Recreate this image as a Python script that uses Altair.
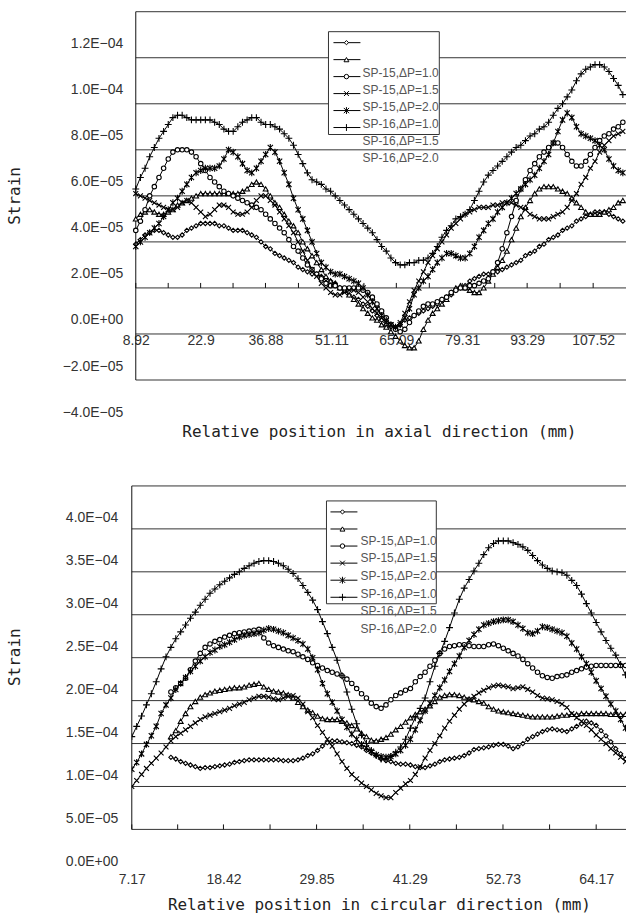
import json
import altair as alt
import pandas as pd

SERIES = ["SP-15,ΔP=1.0", "SP-15,ΔP=1.5", "SP-15,ΔP=2.0",
          "SP-16,ΔP=1.0", "SP-16,ΔP=1.5", "SP-16,ΔP=2.0"]
# open Excel-style markers: diamond, triangle, circle, x, star, plus
MARKERS = ["diamond", "triangle-up", "circle",
           "M-1,-1L1,1M-1,1L1,-1",
           "M-1,-1L1,1M-1,1L1,-1M0,-1.3L0,1.3",
           "M-1.3,0L1.3,0M0,-1.3L0,1.3"]
MARKER_SIZES = [18, 24, 20, 24, 28, 28]

# ---------------- axial direction (microstrain, every 1 mm from 8.92 mm) ----------------
AXIAL_START, AXIAL_STEP = 8.92, 1.0
axial_sp15_dp10 = [39, 41, 43, 44, 45, 45, 44, 43, 42, 42,
                   43, 45, 46, 47, 48, 48, 48, 48, 47, 47,
                   46, 45, 45, 45, 44, 43, 42, 40, 38, 37,
                   35, 34, 33, 32, 31, 29, 28, 27, 26, 26,
                   25, 24, 23, 22, 20, 19, 17, 16, 15, 13,
                   12, 10, 8, 6, 4, 3, 3, 4, 6, 7,
                   8, 9, 10, 11, 12, 13, 15, 16, 17, 19,
                   20, 21, 23, 24, 25, 26, 26, 27, 27, 28,
                   29, 30, 31, 32, 34, 35, 36, 38, 39, 41,
                   42, 43, 45, 46, 47, 49, 50, 51, 52, 53,
                   53, 53, 52, 51, 50, 49]
axial_sp15_dp15 = [50, 52, 53, 54, 53, 52, 52, 53, 54, 56,
                   57, 58, 59, 60, 61, 61, 61, 61, 61, 61,
                   61, 61, 61, 62, 63, 65, 66, 65, 63, 60,
                   57, 55, 52, 49, 47, 44, 40, 37, 34, 31,
                   28, 25, 23, 22, 20, 19, 17, 15, 13, 11,
                   9, 7, 6, 4, 3, 1, -1, -3, -5, -6,
                   -6, -3, 2, 6, 9, 11, 13, 15, 18, 20,
                   21, 20, 19, 18, 18, 20, 23, 26, 29, 32,
                   36, 41, 46, 51, 55, 58, 61, 63, 64, 64,
                   64, 63, 62, 61, 59, 57, 55, 53, 52, 52,
                   52, 53, 54, 55, 57, 58]
axial_sp15_dp20 = [45, 49, 54, 60, 64, 68, 72, 76, 79, 80,
                   80, 80, 79, 77, 74, 71, 68, 66, 64, 62,
                   61, 60, 59, 58, 57, 56, 55, 54, 52, 50,
                   48, 46, 44, 41, 38, 36, 33, 30, 28, 26,
                   24, 22, 21, 21, 20, 20, 20, 20, 20, 19,
                   18, 16, 13, 10, 7, 4, 2, 1, 2, 5,
                   8, 10, 12, 13, 13, 14, 15, 16, 18, 19,
                   20, 20, 21, 21, 22, 23, 24, 27, 31, 37,
                   44, 51, 58, 63, 67, 71, 74, 77, 79, 81,
                   83, 83, 81, 78, 75, 73, 73, 75, 78, 81,
                   84, 86, 87, 89, 90, 92]
axial_sp16_dp10 = [61, 60, 59, 58, 57, 56, 55, 54, 54, 55,
                   57, 58, 57, 55, 53, 51, 52, 54, 56, 56,
                   55, 53, 52, 52, 53, 55, 58, 60, 60, 58,
                   56, 53, 50, 47, 44, 40, 36, 32, 28, 25,
                   22, 20, 18, 17, 17, 18, 19, 19, 18, 16,
                   14, 11, 9, 7, 5, 4, 3, 5, 9, 14,
                   19, 23, 27, 31, 34, 37, 40, 43, 46, 48,
                   50, 52, 53, 54, 55, 55, 55, 56, 56, 57,
                   57, 57, 56, 55, 54, 52, 51, 50, 50, 50,
                   51, 52, 53, 55, 58, 61, 65, 68, 72, 75,
                   79, 82, 84, 86, 87, 88]
axial_sp16_dp15 = [38, 40, 42, 44, 46, 48, 51, 54, 57, 59,
                   62, 65, 68, 70, 71, 72, 72, 72, 73, 76,
                   80, 79, 77, 74, 71, 70, 72, 75, 78, 81,
                   79, 75, 70, 65, 59, 54, 50, 45, 40, 35,
                   31, 29, 27, 26, 26, 25, 24, 23, 22, 20,
                   17, 14, 11, 8, 6, 4, 3, 4, 7, 11,
                   17, 20, 23, 25, 28, 31, 33, 35, 35, 34,
                   33, 33, 35, 38, 42, 45, 48, 50, 53, 55,
                   57, 59, 61, 63, 65, 67, 69, 72, 75, 78,
                   83, 88, 93, 96, 94, 90, 87, 86, 85, 84,
                   82, 80, 76, 73, 71, 70]
axial_sp16_dp20 = [63, 68, 72, 77, 81, 85, 88, 91, 94, 95,
                   95, 94, 93, 93, 93, 93, 93, 92, 91, 89,
                   88, 88, 90, 92, 93, 94, 94, 92, 91, 91,
                   90, 89, 87, 85, 82, 78, 74, 70, 67, 66,
                   65, 63, 62, 60, 58, 56, 54, 52, 50, 48,
                   46, 44, 41, 38, 36, 33, 31, 30, 30, 31,
                   31, 32, 32, 33, 35, 38, 42, 45, 47, 50,
                   51, 52, 54, 58, 62, 66, 69, 71, 73, 75,
                   77, 79, 81, 82, 84, 86, 87, 89, 90, 92,
                   95, 98, 100, 103, 106, 110, 113, 115, 116, 117,
                   117, 116, 114, 111, 108, 104]

axial_label_values = [8.92, 22.9, 36.88, 51.11, 65.09, 79.31, 93.29, 107.52]
axial_label_texts = ["8.92", "22.9", "36.88", "51.11", "65.09", "79.31", "93.29", "107.52"]
axial_tick_marks = [8.92, 15.91, 22.9, 29.89, 36.88, 43.99, 51.11, 58.1, 65.09,
                    72.2, 79.31, 86.3, 93.29, 100.4, 107.52]
axial_strain_values = [-4e-05, -2e-05, 0.0, 2e-05, 4e-05, 6e-05, 8e-05, 1e-04, 1.2e-04]
axial_strain_labels = ["\u22124.0E\u221205", "\u22122.0E\u221205", "0.0E+00", "2.0E\u221205",
                       "4.0E\u221205", "6.0E\u221205", "8.0E\u221205", "1.0E\u221204", "1.2E\u221204"]
axial_grid = [-2e-05, 0.0, 2e-05, 4e-05, 6e-05, 8e-05, 1e-04, 1.2e-04, 1.4e-04]

# ---------------- circular direction (microstrain, every 0.6 mm from 7.17 mm) ----------------
CIRC_START, CIRC_STEP = 7.17, 0.6
circ_sp15_dp10 = [None] * 8 + [
    134, 132,
    129, 127, 125, 123, 121, 122, 122, 123, 124, 125,
    126, 128, 129, 130, 131, 131, 131, 131, 131, 131,
    131, 130, 130, 130, 131, 133, 136, 138, 142, 147,
    151, 153, 153, 152, 151, 150, 148, 146, 142, 139,
    136, 132, 130, 129, 127, 126, 126, 125, 123, 122,
    122, 124, 126, 129, 131, 132, 133, 134, 136, 139,
    143, 144, 145, 146, 148, 149, 149, 147, 144, 146,
    150, 155, 158, 161, 164, 166, 167, 166, 165, 164,
    167, 170, 173, 176, 174, 171, 165, 159, 152, 144,
    138, 132]
circ_sp15_dp15 = [None] * 8 + [
    158, 165,
    176, 185, 193, 199, 204, 207, 209, 211, 212, 213,
    214, 215, 215, 216, 218, 219, 220, 216, 213, 211,
    210, 209, 207, 203, 198, 193, 189, 186, 182, 179,
    178, 178, 178, 176, 174, 171, 167, 162, 158, 154,
    153, 155, 157, 161, 166, 170, 175, 180, 184, 187,
    190, 194, 199, 204, 206, 207, 207, 206, 204, 202,
    201, 199, 197, 193, 190, 188, 187, 186, 185, 184,
    183, 182, 181, 181, 181, 181, 181, 182, 183, 183,
    184, 184, 185, 185, 185, 185, 185, 185, 184, 184,
    184, 184]
circ_sp15_dp20 = [None] * 8 + [
    210, 215,
    220, 226, 236, 246, 255, 262, 266, 269, 271, 274,
    276, 278, 279, 280, 281, 282, 283, 273, 267, 264,
    262, 260, 258, 257, 254, 251, 248, 244, 241, 238,
    235, 233, 231, 229, 225, 220, 214, 208, 203, 197,
    193, 191, 195, 201, 206, 209, 212, 214, 222, 228,
    233, 240, 247, 255, 260, 263, 264, 265, 265, 264,
    263, 263, 263, 265, 266, 264, 261, 258, 255, 252,
    248, 243, 238, 233, 229, 227, 226, 228, 229, 230,
    233, 235, 237, 239, 240, 241, 241, 241, 241, 241,
    241, 241]
circ_sp16_dp10 = [100, 107, 114, 121, 127, 133, 139, 146, 153, 158,
                  162, 166, 170, 174, 178, 181, 183, 185, 187, 189,
                  191, 194, 196, 198, 201, 203, 205, 205, 204, 202,
                  201, 203, 205, 206, 203, 196, 187, 180, 171, 163,
                  155, 147, 138, 129, 121, 114, 109, 104, 100, 96,
                  92, 89, 87, 87, 93, 98, 103, 107, 114, 123,
                  133, 142, 150, 159, 168, 176, 183, 190, 196, 201,
                  205, 209, 212, 215, 217, 218, 217, 216, 214, 215,
                  216, 213, 210, 206, 203, 202, 201, 199, 196, 192,
                  185, 180, 176, 171, 166, 160, 155, 150, 144, 139,
                  134, 129]
circ_sp16_dp15 = [120, 128, 138, 149, 159, 170, 185, 195, 203, 213,
                  220, 227, 234, 240, 246, 251, 256, 259, 263, 265,
                  268, 271, 274, 276, 277, 278, 279, 282, 284, 283,
                  281, 279, 276, 273, 270, 266, 260, 250, 236, 220,
                  208, 198, 188, 178, 169, 161, 155, 149, 145, 141,
                  137, 135, 134, 135, 138, 142, 148, 155, 166, 177,
                  188, 197, 206, 215, 224, 234, 243, 252, 262, 270,
                  277, 283, 288, 290, 292, 293, 294, 294, 292, 288,
                  284, 279, 278, 281, 286, 285, 283, 281, 279, 275,
                  267, 260, 251, 243, 233, 223, 214, 205, 196, 188,
                  178, 168]
circ_sp16_dp20 = [158, 170, 182, 195, 208, 222, 237, 251, 262, 272,
                  280, 288, 296, 303, 311, 318, 325, 330, 335, 339,
                  343, 347, 350, 354, 357, 360, 362, 363, 363, 362,
                  360, 357, 353, 348, 342, 334, 326, 317, 306, 292,
                  278, 262, 247, 229, 210, 190, 173, 160, 150, 142,
                  136, 132, 132, 135, 140, 146, 155, 168, 180, 191,
                  203, 222, 240, 255, 269, 285, 302, 318, 331, 341,
                  351, 360, 370, 378, 383, 386, 386, 386, 384, 382,
                  379, 375, 369, 363, 358, 354, 351, 350, 349, 346,
                  340, 334, 324, 313, 302, 291, 280, 270, 261, 253,
                  242, 230]

circ_label_values = [7.17, 18.42, 29.85, 41.29, 52.73, 64.17]
circ_label_texts = ["7.17", "18.42", "29.85", "41.29", "52.73", "64.17"]
circ_tick_marks = [7.17, 12.8, 18.42, 24.14, 29.85, 35.57, 41.29, 47.01, 52.73, 58.45, 64.17]
circ_strain_values = [0.0, 5e-05, 1e-04, 1.5e-04, 2e-04, 2.5e-04, 3e-04, 3.5e-04, 4e-04]
circ_strain_labels = ["0.0E+00", "5.0E\u221205", "1.0E\u221204", "1.5E\u221204", "2.0E\u221204",
                      "2.5E\u221204", "3.0E\u221204", "3.5E\u221204", "4.0E\u221204"]
circ_grid = [5e-05, 1e-04, 1.5e-04, 2e-04, 2.5e-04, 3e-04, 3.5e-04, 4e-04, 4.5e-04]

PLOT_W = 495


def lookup_expr(values, labels):
    return "{}[indexof({}, datum.value)]".format(
        json.dumps(labels, ensure_ascii=False), json.dumps(values))


def long_frame(start, step, columns):
    rows = []
    for name, vals in zip(SERIES, columns):
        for i, v in enumerate(vals):
            if v is None:
                continue
            rows.append({"pos": round(start + step * i, 2), "strain": v * 1e-6, "series": name})
    return pd.DataFrame(rows)


def legend_layers(box, sym_x, mark_x, sym_y0, text_x, text_y0, pitch, text_pitch):
    one = pd.DataFrame({"k": [0]})
    layers = [alt.Chart(one).mark_rect(fill="white", stroke="#333", strokeWidth=1).encode(
        x=alt.value(box[0]), x2=alt.value(box[1]), y=alt.value(box[2]), y2=alt.value(box[3]))]
    for i, (name, shape, size) in enumerate(zip(SERIES, MARKERS, MARKER_SIZES)):
        row = alt.Chart(pd.DataFrame({"label": [name]}))
        ys = sym_y0 + pitch * i
        yt = text_y0 + text_pitch * i
        layers.append(row.mark_rule(color="black", strokeWidth=1).encode(
            x=alt.value(sym_x[0]), x2=alt.value(sym_x[1]), y=alt.value(ys)))
        layers.append(row.mark_point(shape=shape, size=size, filled=True, fill="white",
                                     stroke="black", strokeWidth=1, opacity=1).encode(
            x=alt.value(mark_x), y=alt.value(ys)))
        layers.append(row.mark_text(align="left", baseline="middle", font="Liberation Sans",
                                    fontSize=12, color="#555").encode(
            x=alt.value(text_x), y=alt.value(yt), text="label:N"))
    return layers


def panel(df, *, x_domain, y_domain, height, x_first, frame_bottom, axis_line, grid_values,
          tick_marks, label_values, label_texts, x_title, x_offset, x_label_padding, x_title_y,
          y_values, y_labels, y_label_offset, y_label_padding, y_title_y, legend):
    xs = alt.Scale(domain=x_domain, nice=False, zero=False)
    ys = alt.Scale(domain=y_domain, nice=False, zero=False)

    x_axis = alt.Axis(values=label_values, labelExpr=lookup_expr(label_values, label_texts),
                      offset=x_offset, ticks=False, domain=False, grid=False,
                      labelPadding=x_label_padding, labelFlush=False, title=x_title,
                      titleY=x_title_y, titleBaseline="middle")
    y_axis = alt.Axis(values=y_values, labelExpr=lookup_expr(y_values, y_labels),
                      labelOffset=y_label_offset, labelPadding=y_label_padding, ticks=False,
                      domain=False, grid=False, labelFlush=False, title="Strain",
                      titleX=-117, titleY=y_title_y, titleBaseline="middle")

    def X(field):
        return alt.X(field, scale=xs, axis=x_axis, title=x_title)

    def Y(field):
        return alt.Y(field, scale=ys, axis=y_axis, title="Strain")

    grid = alt.Chart(pd.DataFrame({"y": grid_values, "x0": x_first})).mark_rule(
        color="#333", strokeWidth=1).encode(x=X("x0:Q"), x2=alt.value(PLOT_W), y=Y("y:Q"))
    frame = alt.Chart(pd.DataFrame({"x": [x_first], "y0": [frame_bottom], "y1": [y_domain[1]]})).mark_rule(
        color="#111", strokeWidth=1).encode(x=X("x:Q"), y=Y("y0:Q"), y2="y1:Q")
    ticks = alt.Chart(pd.DataFrame({"x": tick_marks, "base": axis_line})).mark_rule(
        color="#111", strokeWidth=1, y2Offset=-5).encode(x=X("x:Q"), y=Y("base:Q"), y2="base:Q")

    line_layers, point_layers = [], []
    for name, shape, size in zip(SERIES, MARKERS, MARKER_SIZES):
        sub = alt.Chart(df[df["series"] == name])
        line_layers.append(sub.mark_line(color="black", strokeWidth=1, clip=True).encode(
            x=X("pos:Q"), y=Y("strain:Q")))
        point_layers.append(sub.mark_point(shape=shape, size=size, filled=True, fill="white",
                                           stroke="black", strokeWidth=1.1, opacity=1,
                                           clip=True).encode(x=X("pos:Q"), y=Y("strain:Q")))

    layers = [grid, frame] + line_layers + point_layers + [ticks] + legend_layers(**legend)
    return alt.layer(*layers).properties(width=PLOT_W, height=height)


axial_df = long_frame(AXIAL_START, AXIAL_STEP,
                      [axial_sp15_dp10, axial_sp15_dp15, axial_sp15_dp20,
                       axial_sp16_dp10, axial_sp16_dp15, axial_sp16_dp20])
circ_df = long_frame(CIRC_START, CIRC_STEP,
                     [circ_sp15_dp10, circ_sp15_dp15, circ_sp15_dp20,
                      circ_sp16_dp10, circ_sp16_dp15, circ_sp16_dp20])

upper = panel(
    axial_df, x_domain=[8.06, 114.6], y_domain=[-4e-05, 1.4e-04], height=415,
    x_first=8.92, frame_bottom=-2e-05, axis_line=2e-05, grid_values=axial_grid,
    tick_marks=axial_tick_marks, label_values=axial_label_values, label_texts=axial_label_texts,
    x_title="Relative position in axial direction (mm)", x_offset=-92, x_label_padding=-1,
    x_title_y=97,
    y_values=axial_strain_values, y_labels=axial_strain_labels, y_label_offset=-14,
    y_label_padding=9, y_title_y=184,
    legend=dict(box=(197, 308, 20, 123), sym_x=(202, 229), mark_x=215, sym_y0=31,
                text_x=231, text_y0=61, pitch=17.0, text_pitch=17.2))

lower = panel(
    circ_df, x_domain=[7.17, 67.83], y_domain=[0.0, 4.5e-04], height=387,
    x_first=7.17, frame_bottom=5e-05, axis_line=5e-05, grid_values=circ_grid,
    tick_marks=circ_tick_marks, label_values=circ_label_values, label_texts=circ_label_texts,
    x_title="Relative position in circular direction (mm)", x_offset=0, x_label_padding=0,
    x_title_y=32,
    y_values=circ_strain_values, y_labels=circ_strain_labels, y_label_offset=-11,
    y_label_padding=14, y_title_y=171,
    legend=dict(box=(195, 305, 15, 118), sym_x=(199, 226), mark_x=211, sym_y0=26,
                text_x=229, text_y0=55, pitch=17.1, text_pitch=17.6))

chart = alt.vconcat(upper, lower, spacing=46).properties(
    padding={"left": 7, "top": 10, "right": 0, "bottom": 0},
    background="white",
).configure_view(stroke=None).configure_axis(
    labelFont="Liberation Sans", labelFontSize=14, labelColor="#333",
    titleFont="DejaVu Sans Mono", titleFontSize=16, titleFontWeight="normal", titleColor="#222",
)

chart.save("out.html", embed_options={"renderer": "svg", "actions": False})
